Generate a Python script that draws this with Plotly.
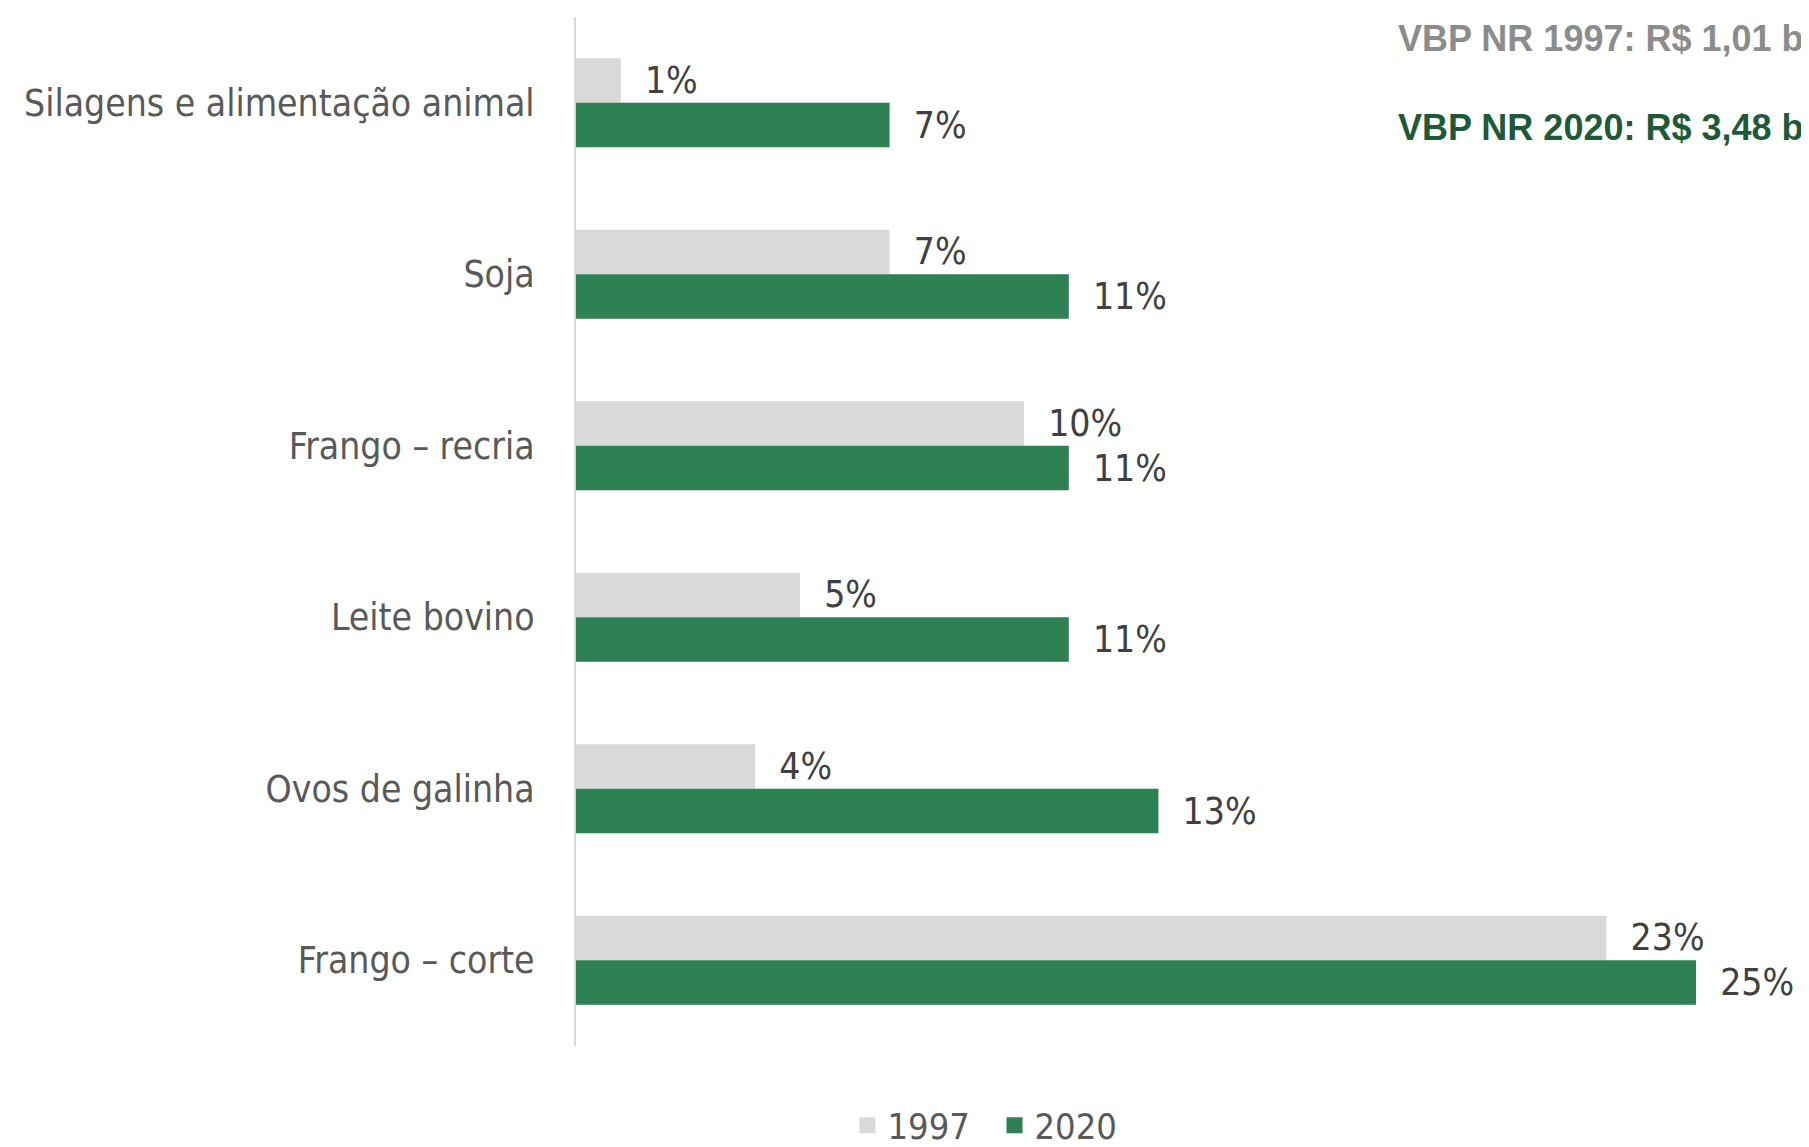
import plotly.graph_objects as go

categories = ["Silagens e alimentação animal", "Soja", "Frango – recria",
              "Leite bovino", "Ovos de galinha", "Frango – corte"]
values_1997 = [1, 7, 10, 5, 4, 23]
values_2020 = [7, 11, 11, 11, 13, 25]
series_names = ["1997", "2020"]
note_1997 = "VBP NR 1997: R$ 1,01 bi"
note_2020 = "VBP NR 2020: R$ 3,48 bi"

FONT = "Liberation Sans Narrow, DejaVu Sans Condensed, Arial Narrow, sans-serif"
GRAY_BAR = "#d9d9d9"
GREEN_BAR = "#2d8152"
LABEL = "#404040"

L, T, B = 568, 9, 109
PW = 1809 - L
PH = 1147 - T - B

fig = go.Figure()
for name, vals, col in [(series_names[0], values_1997, GRAY_BAR),
                        (series_names[1], values_2020, GREEN_BAR)]:
    fig.add_trace(go.Bar(
        name=name, y=categories, x=vals, orientation="h",
        marker=dict(color=col, line=dict(width=0)),
        text=["  %d%%" % v for v in vals], textposition="outside",
        textfont=dict(family=FONT, size=37, color=LABEL),
        cliponaxis=False, showlegend=False,
    ))
# legend entries with larger square swatches
for name, col in [(series_names[0], GRAY_BAR), (series_names[1], GREEN_BAR)]:
    fig.add_trace(go.Scatter(
        name=name, x=[None], y=[None], mode="markers",
        marker=dict(symbol="square", size=16, color=col), showlegend=True,
    ))

fig.update_layout(
    width=1809, height=1147,
    paper_bgcolor="white", plot_bgcolor="white",
    margin=dict(l=L, r=0, t=T, b=B, autoexpand=False),
    barmode="group", bargap=0.48, bargroupgap=0,
    legend=dict(orientation="h", x=(851.5 - 12 - L) / PW, xanchor="left",
                y=-0.077, yanchor="middle",
                font=dict(family=FONT, size=36, color="#595959"),
                itemsizing="trace", itemwidth=30, entrywidth=102,
                traceorder="normal"),
    xaxis=dict(range=[0, PW / 44.8], visible=False, showgrid=False, zeroline=False),
    yaxis=dict(autorange="reversed", showgrid=False, zeroline=False, automargin=False,
               showline=True, linecolor="#d9d9d9", linewidth=2,
               ticks="", ticklabelstandoff=32,
               tickfont=dict(family=FONT, size=37, color="#595959")),
)

fig.add_annotation(text="<b>%s</b>" % note_1997, xref="paper", yref="paper",
                   x=(1388 - L) / PW, y=1 + (T - 30) / PH, xanchor="left", yanchor="middle",
                   showarrow=False, font=dict(family="Liberation Sans, Arial, sans-serif", size=36, color="#8c8c8c"))
fig.add_annotation(text="<b>%s</b>" % note_2020, xref="paper", yref="paper",
                   x=(1388 - L) / PW, y=1 + (T - 119) / PH, xanchor="left", yanchor="middle",
                   showarrow=False, font=dict(family="Liberation Sans, Arial, sans-serif", size=36, color="#1e5a37"))

fig.write_html("out.html")
